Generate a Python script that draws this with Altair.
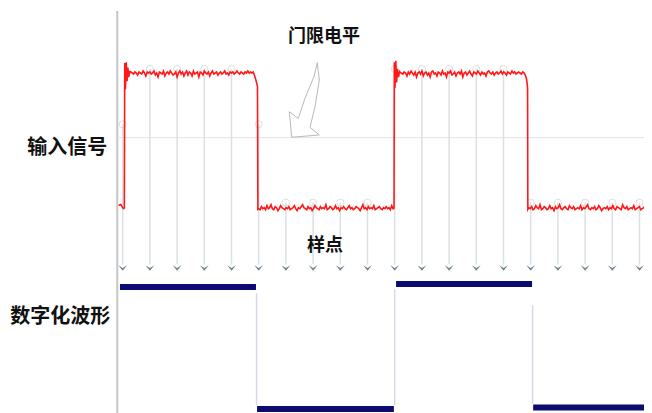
import altair as alt
import pandas as pd

# ---------------- data (time in sample periods, level: low=0, high=1) ----------------
pre_t = [-0.15, -0.11, -0.07, -0.03, 0.0, 0.04, 0.06]
pre_v = [0.025, 0.022, 0.026, 0.012, 0.0, -0.004, 0.0]

ring1_t = [0.075, 0.10, 0.13, 0.16, 0.19, 0.22, 0.26]
ring1_v = [1.075, 0.88, 1.08, 0.94, 1.04, 0.97, 1.01]
high1_span = [0.30, 4.80]
high1_noise = [1, 0, -1, 1, 0, -2, 1, 0, -1, 2, 0, -3, 1, 0, 1, -1, 0, 2, -2, 0, -4, 1, 0, -1, 2, -3,
               0, 1, -1, 2, 0, -2, -1, 1, -4, 0, 2, -1, 1, -3, 0, 2, -2, 1, 0, -3, 2, -1, 0, 1, -4, 1,
               0, -2, 2, 0, -1, 1, -3, 0, 2, -1, 0, 1, -2, 0, 1, -1, 0, 2, -1, 0, -2, 1, 0, 1, -1, 0,
               2, 0, -1, 1, 0, -1, 1, 0, 2, 0, 1, 0, 1]
fall1_t = [4.84, 4.88, 4.92, 4.955, 4.97]
fall1_v = [0.985, 0.96, 0.93, 0.90, -0.01]

low1_span = [5.00, 9.94]
low1_noise = [0, -1, 2, 0, 1, -1, 3, 0, 1, 4, 0, -1, 2, 1, -2, 0, 3, 1, 0, -1, 1, 0, 2, -1, 0, 1, 3,
              0, -2, 1, 0, 2, 4, 1, 0, -1, 2, 0, 1, -2, 0, 3, 1, 0, -1, 2, 0, 1, 0, 4, -1, 0, 2, 1,
              -1, 0, 3, 0, 1, -2, 1, 0, 2, 0, -1, 1, 3, 0, 1, -1, 0, 2, 1, 0, -2, 1, 4, 0, 1, -1, 2,
              0, 1, 0, 3, -1, 0, 1, 2, 0, -1, 1, 0, 2, 0, 1, -1, 3, 0]

ring2_t = [9.975, 9.985, 10.01, 10.04, 10.07, 10.10, 10.14, 10.18, 10.22]
ring2_v = [0.0, 1.08, 0.89, 1.09, 0.93, 1.03, 0.97, 1.01, 1.0]
high2_span = [10.25, 14.76]
high2_noise = [0, -1, 1, 0, -3, 1, -1, 2, 0, -2, 1, -4, 0, 1, -1, 2, -3, 0, 1, -2, 0, -4, 1, 2, -1, 0,
               -3, 1, 0, -2, 2, -1, 0, -4, 1, 0, 2, -2, -1, 1, -3, 0, 1, -1, 2, -4, 0, 1, -2, 0, 2, -1,
               -3, 1, 0, -1, 2, 0, -2, 1, -1, 0, -3, 1, 2, 0, -1, 1, -2, 0, 1, -1, 0, 2, -1, 1, 0, -2,
               1, 0, -1, 2, 0, 1, -1, 0, 1, 0, -1, 1, 0]
fall2_t = [14.80, 14.84, 14.865, 14.885, 14.895]
fall2_v = [0.985, 0.96, 0.93, 0.89, -0.01]

low2_span = [14.93, 19.46]
low2_noise = [1, 0, 2, -1, 0, 3, 1, 0, 4, -1, 0, 2, 1, -1, 0, 3, 0, 1, -2, 2, 0, 1, 4, 0, -1, 1, 2,
              0, -1, 3, 1, 0, 2, -1, 0, 1, 0, 3, -1, 1, 0, 2, 4, 0, -1, 1, 0, 2, -1, 0, 3, 1, -2, 0,
              1, 0, 2, -1, 1, 0, 3, 0, -1, 2, 1, 0, -1, 4, 1, 0, 2, -1, 0, 1, 0, 3, -1, 0, 1, 2, -1,
              0, 1, 3, 0, -1, 2, 0, 1]

high_level = 1.0
low_level = -0.005

# sampling instants and the level each sample line starts from
sample_t = list(range(20))
sample_top = [0.62, 1.03, 1.03, 1.03, 1.03, 0.62, 0.04, 0.04, 0.04, 0.04,
              1.03, 1.03, 1.03, 1.03, 1.03, 0.04, 0.04, 0.04, 0.04, 0.04]
sample_arrow = -0.444
threshold = 0.521

# digitised waveform segments
dig_start = [-0.10, 4.94, 10.05, 15.09]
dig_end = [4.90, 9.97, 15.05, 19.46]
dig_level = [-0.585, -1.489, -0.563, -1.478]
edge_t = [4.92, 10.0, 15.07]
edge_top = [-0.63, -0.60, -0.72]
edge_bottom = [-1.46, -1.46, -1.45]

# hand-drawn threshold arrow outline
arrow_t = [7.154, 7.228, 7.070, 6.886, 7.228, 6.213, 6.125, 6.456, 6.702, 7.033, 7.154]
arrow_v = [1.076, 0.948, 0.750, 0.598, 0.541, 0.524, 0.713, 0.664, 0.813, 0.973, 1.076]

# labels
label_text = ["门限电平", "样点", "输入信号", "数字化波形"]
label_t = [7.40, 7.44, -2.04, -2.30]
label_v = [1.27, -0.278, 0.442, -0.805]
label_size = [18, 18, 20, 20]

axis_t = -0.20
axis_top = 1.459

# ---------------- build tables ----------------
def noisy(span, level, noise):
    n = len(noise)
    ts = [span[0] + (span[1] - span[0]) * i / (n - 1) for i in range(n)]
    vs = [level + d / 135.0 for d in noise]
    return ts, vs

sig_t, sig_v = [], []
for ts, vs in [(pre_t, pre_v), (ring1_t, ring1_v), noisy(high1_span, high_level, high1_noise),
               (fall1_t, fall1_v), noisy(low1_span, low_level, low1_noise),
               (ring2_t, ring2_v), noisy(high2_span, high_level, high2_noise),
               (fall2_t, fall2_v), noisy(low2_span, low_level, low2_noise)]:
    sig_t += list(ts)
    sig_v += list(vs)

signal = pd.DataFrame({"t": sig_t, "v": sig_v, "i": range(len(sig_t))})
samples = pd.DataFrame({"t": sample_t, "top": sample_top, "bot": [sample_arrow + 0.025] * 20,
                        "arrow": [sample_arrow] * 20})
digital = pd.DataFrame({"t": dig_start, "t2": dig_end, "v": dig_level})
edges = pd.DataFrame({"t": edge_t, "v": edge_top, "v2": edge_bottom})
arrow = pd.DataFrame({"t": arrow_t, "v": arrow_v, "i": range(len(arrow_t))})
labels = pd.DataFrame({"text": label_text, "t": label_t, "v": label_v, "s": label_size})
axis_df = pd.DataFrame({"t": [axis_t], "v": [axis_top], "v2": [-1.5185]})
thr_df = pd.DataFrame({"t": [axis_t], "t2": [19.46], "v": [threshold]})

# plot area 636 px wide (page x 8..644), 405 px tall (page y 8..413)
XS = alt.Scale(domain=[-4.2169, 19.1654], nice=False, zero=False)
YS = alt.Scale(domain=[-1.5185, 1.4815], nice=False, zero=False)

def X(f="t"):
    return alt.X(f"{f}:Q", scale=XS, axis=None)

def Y(f="v"):
    return alt.Y(f"{f}:Q", scale=YS, axis=None)

axis_line = alt.Chart(axis_df).mark_rule(color="#c6c6c6", strokeWidth=2).encode(
    x=X(), y=Y(), y2="v2:Q")
thr_line = alt.Chart(thr_df).mark_rule(color="#e2e2e2", strokeWidth=1).encode(
    x=X(), x2="t2:Q", y=Y())
samp_lines = alt.Chart(samples).mark_rule(color="#dbe0e3", strokeWidth=1.5).encode(
    x=X(), y=Y("top"), y2="bot:Q")
samp_circles = alt.Chart(samples).mark_point(shape="circle", size=50, color="#d2d2d2",
                                             strokeWidth=1, filled=False).encode(
    x=X(), y=Y("top"))
samp_arrows = alt.Chart(samples).mark_point(
    shape="M-1,-0.6L0,0.6L1,-0.6L0,0Z", size=80, filled=True, color="#71838c", opacity=1).encode(
    x=X(), y=Y("arrow"))
sig_line = alt.Chart(signal).mark_line(color="#ff1a1a", strokeWidth=1.6, clip=True).encode(
    x=X(), y=Y(), order="i:Q")
arrow_line = alt.Chart(arrow).mark_line(color="#b9b9b9", strokeWidth=1).encode(
    x=X(), y=Y(), order="i:Q")
edge_lines = alt.Chart(edges).mark_rule(color="#d6d6ec", strokeWidth=1.5).encode(
    x=X(), y=Y(), y2="v2:Q")
dig_bars = alt.Chart(digital).mark_rule(color="#0b0b72", strokeWidth=6, strokeCap="butt",
                                        clip=True).encode(
    x=X(), x2="t2:Q", y=Y())
texts = alt.Chart(labels).mark_text(font="Noto Sans CJK SC", fontWeight="bold", color="#111111",
                                    align="center", baseline="middle").encode(
    x=X(), y=Y(), text="text:N", size=alt.Size("s:Q", scale=None, legend=None))

chart = alt.layer(axis_line, thr_line, samp_lines, samp_circles, samp_arrows, edge_lines,
                  sig_line, arrow_line, dig_bars, texts).properties(
    width=636, height=405, padding=0,
    autosize=alt.AutoSizeParams(type="none"),
).configure_view(stroke=None)

chart.save("out.html", embed_options={"renderer": "svg", "actions": False})
